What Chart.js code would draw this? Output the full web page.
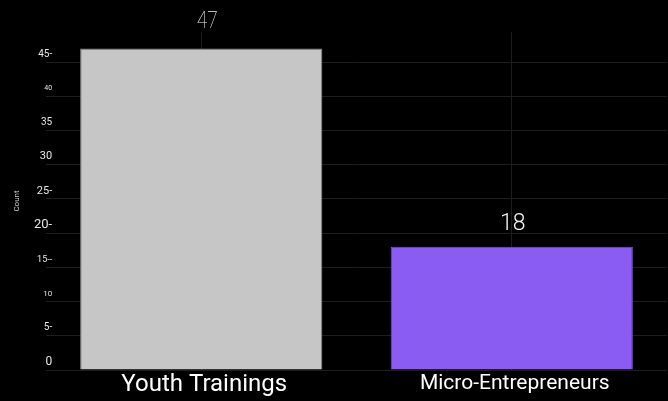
<!DOCTYPE html>
<html>
<head>
<meta charset="utf-8">
<script src="https://cdn.jsdelivr.net/npm/chart.js@4.4.1/dist/chart.umd.min.js"></script>
<style>
  html, body { margin:0; padding:0; background:#000; }
  #wrap { width:668px; height:401px; }
</style>
</head>
<body>
<div id="wrap"><canvas id="c" width="668" height="401"></canvas></div>
<script>
// data
var categories = ["Youth Trainings", "Micro-Entrepreneurs"];
var counts = [47, 18];
var tickValues = [0, 5, 10, 15, 20, 25, 30, 35, 40, 45];
var tickLabels = ["0", "5-", "10", "15--", "20-", "25-", "30", "35", "40", "45-"];

// styling only
var barColors = ["#c6c6c6", "#8b5cf1"];
var borderColors = ["#8e8e8e", "#7a4fe0"];
var tickSizes = [12, 10, 8, 9, 13, 11, 11, 10, 7, 10];
var catSizes = [24, 21];

var valueLabels = {
  id: "valueLabels",
  afterDatasetsDraw: function(chart){
    var ctx = chart.ctx;
    var meta = chart.getDatasetMeta(0);
    ctx.save();
    ctx.fillStyle = "#f2f2f2";
    ctx.textAlign = "center";
    ctx.textBaseline = "bottom";
    meta.data.forEach(function(bar, i){
      if (i === 0) {
        // the 47 is drawn in a thin, narrow face
        ctx.save();
        ctx.translate(bar.x + 6, bar.y - 14);
        ctx.scale(0.8, 1);
        ctx.font = "100 24px Roboto";
        ctx.fillText(String(counts[i]), 0, 0);
        ctx.restore();
      } else {
        ctx.font = "300 23px Roboto";
        ctx.fillText(String(counts[i]), bar.x + 1, bar.y - 11);
      }
    });
    ctx.restore();
  }
};

new Chart(document.getElementById("c"), {
  type: "bar",
  data: {
    labels: categories,
    datasets: [{
      data: counts,
      backgroundColor: barColors,
      borderColor: borderColors,
      borderWidth: 1,
      barPercentage: 0.78,
      categoryPercentage: 1
    }]
  },
  options: {
    responsive: false,
    animation: false,
    layout: { padding: { top: 32, right: 1, bottom: 0, left: 0 } },
    plugins: { legend: { display: false }, tooltip: { enabled: false } },
    scales: {
      x: {
        afterFit: function(s){ s.height = 31; },
        grid: { offset: false, color: "#1c1c1c", drawTicks: false },
        border: { display: false },
        ticks: {
          color: "#ffffff",
          padding: 1,
          labelOffset: 3,
          font: function(c){ return { family: "Roboto", size: catSizes[c.index] || 20 }; }
        }
      },
      y: {
        min: 0,
        max: 49.4,
        afterFit: function(s){ s.width = 46; },
        afterBuildTicks: function(s){ s.ticks = tickValues.map(function(v){ return { value: v }; }); },
        grid: { color: "#1e1e1e", drawTicks: false },
        border: { display: false },
        title: { display: true, text: "Count", color: "#cfcfcf", font: { family: "Roboto", size: 8 }, padding: { top: 12, bottom: 0 } },
        ticks: {
          color: "#e6e6e6",
          mirror: true,
          crossAlign: "far",
          padding: -12,
          labelOffset: -8,
          font: function(c){ return { family: "Roboto", size: tickSizes[c.index] || 10 }; },
          callback: function(v){ var i = tickValues.indexOf(v); return i >= 0 ? tickLabels[i] : ""; }
        }
      }
    }
  },
  plugins: [valueLabels]
});
</script>
</body>
</html>
